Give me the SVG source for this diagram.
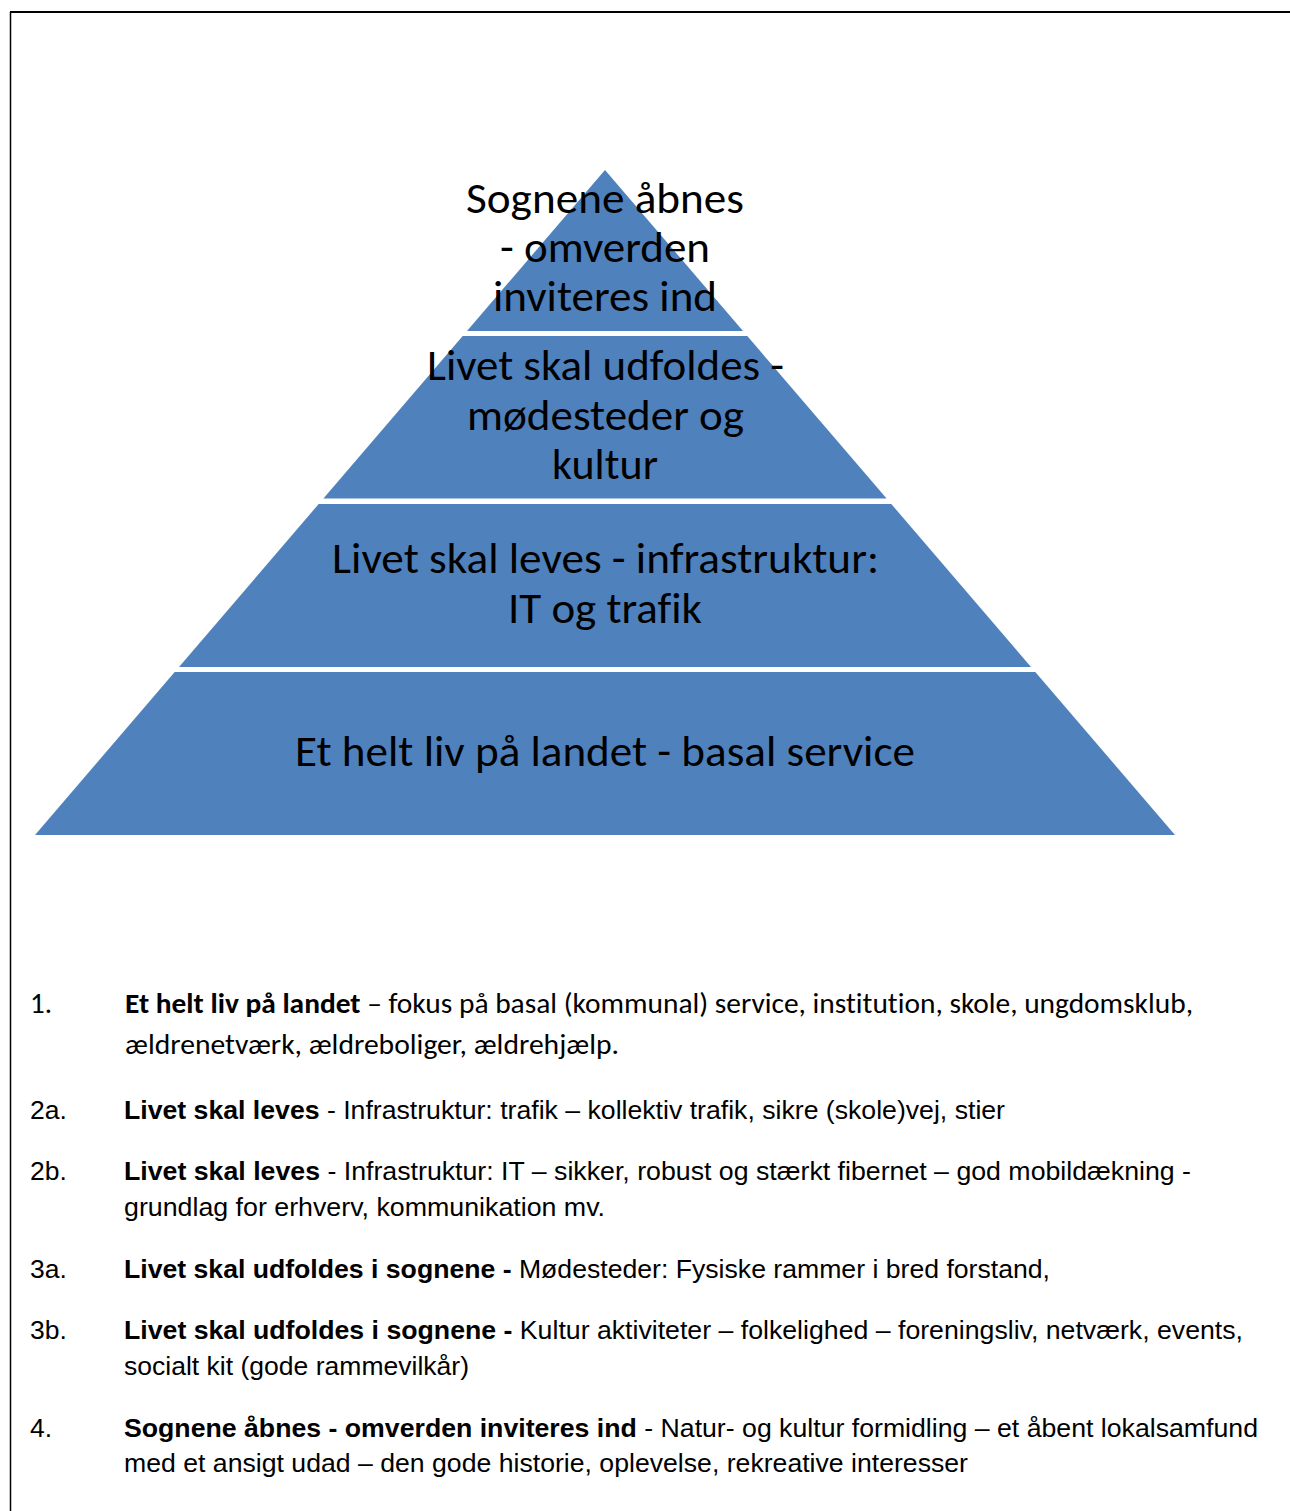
<svg xmlns="http://www.w3.org/2000/svg" width="1290" height="1511" viewBox="0 0 1290 1511">
<style>
.layer{fill:#4F81BD}
.pt{font-family:Carlito,Lato,"Liberation Sans",sans-serif;font-size:44px;fill:#000;text-anchor:middle;font-variant-ligatures:none}
.cal{font-family:Carlito,Lato,"Liberation Sans",sans-serif;font-size:29px;fill:#000;font-variant-ligatures:none}
.ar{font-family:"Liberation Sans",Arial,sans-serif;font-size:26.5px;fill:#000}
.b{font-weight:bold}
</style>
<rect width="1290" height="1511" fill="#fff"/>
<path d="M10.5,1511 V12" fill="none" stroke="#000" stroke-width="1.5"/>
<path d="M10,12 H1290" fill="none" stroke="#000" stroke-width="2"/>
<g id="layer-4">
<polygon class="layer" points="605,170 743,331 467,331"/>
<text class="pt" x="605" y="213" textLength="278" lengthAdjust="spacingAndGlyphs">Sognene åbnes</text>
<text class="pt" x="605" y="262" textLength="210" lengthAdjust="spacingAndGlyphs">- omverden</text>
<text class="pt" x="605" y="311" textLength="224" lengthAdjust="spacingAndGlyphs">inviteres ind</text>
</g>
<g id="layer-3">
<polygon class="layer" points="462.7,336 747.3,336 886.6,498.5 323.4,498.5"/>
<text class="pt" x="605.5" y="380" textLength="357" lengthAdjust="spacingAndGlyphs">Livet skal udfoldes -</text>
<text class="pt" x="605.5" y="430" textLength="277" lengthAdjust="spacingAndGlyphs">mødesteder og</text>
<text class="pt" x="605" y="479" textLength="106" lengthAdjust="spacingAndGlyphs">kultur</text>
</g>
<g id="layer-2">
<polygon class="layer" points="318.7,504 891.3,504 1031,667 179,667"/>
<text class="pt" x="605.5" y="573" textLength="547" lengthAdjust="spacingAndGlyphs">Livet skal leves - infrastruktur:</text>
<text class="pt" x="605" y="623" textLength="194" lengthAdjust="spacingAndGlyphs">IT og trafik</text>
</g>
<g id="layer-1">
<polygon class="layer" points="174.7,672 1035.3,672 1175,835 35,835"/>
<text class="pt" x="605" y="766" textLength="620" lengthAdjust="spacingAndGlyphs">Et helt liv på landet - basal service</text>
</g>
<g id="connectors"/>
<g id="list">
<text class="cal" x="30" y="1013">1.</text>
<text class="cal" x="125" y="1013" textLength="1068" lengthAdjust="spacingAndGlyphs"><tspan class="b">Et helt liv på landet</tspan> – fokus på basal (kommunal) service, institution, skole, ungdomsklub,</text>
<text class="cal" x="125" y="1054" textLength="494" lengthAdjust="spacingAndGlyphs">ældrenetværk, ældreboliger, ældrehjælp.</text>
<text class="ar" x="30" y="1119">2a.</text>
<text class="ar" x="124" y="1119" textLength="881" lengthAdjust="spacingAndGlyphs"><tspan class="b">Livet skal leves</tspan> - Infrastruktur: trafik – kollektiv trafik, sikre (skole)vej, stier</text>
<text class="ar" x="30" y="1180">2b.</text>
<text class="ar" x="124" y="1180" textLength="1067" lengthAdjust="spacingAndGlyphs"><tspan class="b">Livet skal leves</tspan> - Infrastruktur: IT – sikker, robust og stærkt fibernet – god mobildækning -</text>
<text class="ar" x="124" y="1216" textLength="481" lengthAdjust="spacingAndGlyphs">grundlag for erhverv, kommunikation mv.</text>
<text class="ar" x="30" y="1278">3a.</text>
<text class="ar" x="124" y="1278" textLength="926" lengthAdjust="spacingAndGlyphs"><tspan class="b">Livet skal udfoldes i sognene -</tspan> Mødesteder: Fysiske rammer i bred forstand,</text>
<text class="ar" x="30" y="1339">3b.</text>
<text class="ar" x="124" y="1339" textLength="1119" lengthAdjust="spacingAndGlyphs"><tspan class="b">Livet skal udfoldes i sognene -</tspan> Kultur aktiviteter – folkelighed – foreningsliv, netværk, events,</text>
<text class="ar" x="124" y="1375" textLength="345" lengthAdjust="spacingAndGlyphs">socialt kit (gode rammevilkår)</text>
<text class="ar" x="30" y="1437">4.</text>
<text class="ar" x="124" y="1437" textLength="1134" lengthAdjust="spacingAndGlyphs"><tspan class="b">Sognene åbnes - omverden inviteres ind</tspan> - Natur- og kultur formidling – et åbent lokalsamfund</text>
<text class="ar" x="124" y="1472" textLength="844" lengthAdjust="spacingAndGlyphs">med et ansigt udad – den gode historie, oplevelse, rekreative interesser</text>
</g>
</svg>
